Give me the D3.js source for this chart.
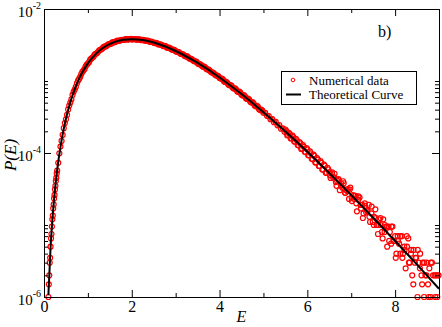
<!DOCTYPE html>
<html>
<head>
<meta charset="utf-8">
<script src="https://cdn.jsdelivr.net/npm/d3@7"></script>
<style>
  html, body { margin: 0; padding: 0; background: #fff; }
  svg { display: block; font-family: "Liberation Serif", "Times New Roman", serif; }
</style>
</head>
<body>
<svg id="chart" width="442" height="327"></svg>
<script>
// numerical histogram, E (energy) and P(E)
const dataE = [
  0.10,0.11,0.12,0.13,0.14,0.15,0.16,0.17,0.18,0.19,0.20,0.21,0.22,0.23,0.24,0.25,0.26,0.27,0.28,0.29,0.30,
  0.35,0.40,0.45,0.50,0.55,0.60,0.65,0.70,0.75,0.80,0.85,0.90,0.95,1.00,1.05,1.10,1.15,1.20,1.25,1.30,
  1.35,1.40,1.45,1.50,1.55,1.60,1.65,1.70,1.75,1.80,1.85,1.90,1.95,2.00,2.05,2.10,2.15,2.20,2.25,2.30,
  2.35,2.40,2.45,2.50,2.55,2.60,2.65,2.70,2.75,2.80,2.85,2.90,2.95,3.00,3.05,3.10,3.15,3.20,3.25,3.30,
  3.35,3.40,3.45,3.50,3.55,3.60,3.65,3.70,3.75,3.80,3.85,3.90,3.95,4.00,4.05,4.10,4.15,4.20,4.25,4.30,
  4.35,4.40,4.45,4.50,4.55,4.60,4.65,4.70,4.75,4.80,4.85,4.90,4.95,5.00,
  5.04,5.08,5.12,5.16,5.20,5.24,5.28,5.32,5.36,5.40,5.44,5.48,5.52,5.56,5.60,5.64,5.68,5.72,5.76,5.80,
  5.84,5.88,5.92,5.96,6.00,6.04,6.08,6.12,6.16,6.20,6.24,6.28,6.32,6.36,6.40,6.44,6.48,
  6.50,6.53,6.56,6.59,6.62,6.65,6.68,6.71,6.74,6.77,6.80,6.83,6.86,6.89,6.92,6.95,6.98,7.01,7.04,7.07,
  7.10,7.13,7.16,7.19,7.22,7.25,7.28,7.31,7.34,7.37,7.40,7.43,7.46,7.49,7.52,7.55,7.58,7.61,7.64,7.67,
  7.70,7.73,7.76,7.79,7.82,7.85,7.88,7.91,7.94,7.97,8.00,8.03,8.06,8.09,8.12,8.15,8.18,8.21,8.24,8.27,
  8.30,8.33,8.36,8.39,8.42,8.45,8.48,8.51,8.54,8.57,8.60,8.63,8.66,8.69,8.72,8.75,8.78,8.81,8.84,8.90,
  8.93,8.96,8.99
];
const dataP = [
  1.0e-6,1.5e-6,2.0e-6,3.0e-6,3.5e-6,5.0e-6,6.5e-6,7.5e-6,9.5e-6,1.2e-5,1.35e-5,1.7e-5,1.93e-5,2.34e-5,2.62e-5,3.12e-5,3.5e-5,4.1e-5,4.5e-5,5.2e-5,5.7e-5,
  9.9e-5,1.47e-4,2.21e-4,2.94e-4,4.03e-4,5.01e-4,6.41e-4,7.60e-4,9.30e-4,1.07e-3,1.25e-3,1.40e-3,1.60e-3,1.75e-3,1.96e-3,2.10e-3,2.30e-3,2.42e-3,2.63e-3,2.74e-3,
  2.93e-3,3.02e-3,3.19e-3,3.26e-3,3.41e-3,3.45e-3,3.58e-3,3.61e-3,3.71e-3,3.71e-3,3.80e-3,3.77e-3,3.83e-3,3.79e-3,3.83e-3,3.76e-3,3.80e-3,3.72e-3,3.73e-3,3.63e-3,
  3.64e-3,3.53e-3,3.52e-3,3.40e-3,3.38e-3,3.25e-3,3.23e-3,3.10e-3,3.07e-3,2.93e-3,2.90e-3,2.76e-3,2.72e-3,2.59e-3,2.55e-3,2.42e-3,2.37e-3,2.24e-3,2.21e-3,2.08e-3,
  2.03e-3,1.92e-3,1.88e-3,1.76e-3,1.72e-3,1.61e-3,1.58e-3,1.47e-3,1.44e-3,1.34e-3,1.31e-3,1.22e-3,1.19e-3,1.10e-3,1.08e-3,9.95e-4,9.75e-4,8.95e-4,8.80e-4,8.05e-4,
  7.90e-4,7.20e-4,7.10e-4,6.45e-4,6.36e-4,5.77e-4,5.70e-4,5.14e-4,5.08e-4,4.56e-4,4.53e-4,4.06e-4,4.02e-4,3.62e-4,
  3.6e-4,3.28e-4,3.25e-4,2.95e-4,2.95e-4,2.68e-4,2.70e-4,2.42e-4,2.45e-4,2.18e-4,2.20e-4,1.98e-4,2.02e-4,1.78e-4,1.83e-4,1.60e-4,1.66e-4,1.44e-4,1.50e-4,1.28e-4,
  1.36e-4,1.15e-4,1.22e-4,1.03e-4,1.12e-4,9.3e-5,9.9e-5,8.2e-5,9.1e-5,7.4e-5,8.1e-5,6.6e-5,7.3e-5,5.9e-5,6.6e-5,5.3e-5,5.9e-5,
  5.40e-5,4.50e-5,5.20e-5,4.55e-5,5.15e-5,3.95e-5,4.10e-5,4.35e-5,3.05e-5,3.80e-5,3.30e-5,3.80e-5,2.80e-5,3.05e-5,3.15e-5,2.30e-5,3.30e-5,2.40e-5,2.60e-5,2.30e-5,
  2.55e-5,1.55e-5,2.25e-5,2.40e-5,1.70e-5,1.90e-5,1.45e-5,2.00e-5,1.50e-5,1.55e-5,1.90e-5,1.10e-5,1.45e-5,1.10e-5,1.30e-5,1.65e-5,1.00e-5,7.5e-6,1.20e-5,1.00e-5,
  8.0e-6,1.20e-5,8.0e-6,9.5e-6,5.0e-6,9.5e-6,8.0e-6,5.5e-6,9.5e-6,6.0e-6,7.0e-6,4.0e-6,7.0e-6,5.5e-6,4.0e-6,7.0e-6,4.0e-6,5.0e-6,2.5e-6,5.0e-6,
  6.5e-6,3.0e-6,4.0e-6,2.0e-6,4.5e-6,3.0e-6,3.5e-6,1.0e-6,3.0e-6,4.0e-6,2.0e-6,3.0e-6,1.0e-6,2.0e-6,3.0e-6,1.5e-6,2.5e-6,1.0e-6,3.0e-6,2.0e-6,
  2.0e-6,1.0e-6,2.0e-6
];

// second run of the histogram (interleaved bins)
const dataE2 = [
  0.325,0.375,0.425,0.475,0.525,0.575,0.625,0.675,0.725,0.775,0.825,0.875,0.925,0.975,1.025,1.075,1.125,1.175,1.225,1.275,
  1.325,1.375,1.425,1.475,1.525,1.575,1.625,1.675,1.725,1.775,1.825,1.875,1.925,1.975,2.025,2.075,2.125,2.175,2.225,2.275,
  2.325,2.375,2.425,2.475,2.525,2.575,2.625,2.675,2.725,2.775,2.825,2.875,2.925,2.975,3.025,3.075,3.125,3.175,3.225,3.275,
  3.325,3.375,3.425,3.475,3.525,3.575,3.625,3.675,3.725,3.775,3.825,3.875,3.925,3.975,4.025,4.075,4.125,4.175,4.225,4.275,
  4.325,4.375,4.425,4.475,4.525,4.575,4.625,4.675,4.725,4.775,4.825,4.875,4.925,4.975,
  5.50,5.54,5.58,5.62,5.66,5.70,5.74,5.78,5.82,5.86,5.90,5.94,5.98,6.02,6.06,6.10,6.14,6.18,6.22,6.26,
  6.30,6.34,6.38,6.42,6.46,
  6.515,6.565,6.615,6.665,6.715,6.765,6.815,6.865,6.915,6.965,7.015,7.065,7.115,7.165,7.215,7.265,7.315,7.365,7.415,7.465,
  7.515,7.565,7.615,7.665,7.715,7.765,7.815,7.865,7.915,7.965,8.015,8.065,8.115,8.165,8.215,8.265,8.315,8.365,8.415,8.465,
  8.515,8.565,8.615,8.665,8.715,8.765,8.815,8.865,8.915,8.965
];
const dataP2 = [
  7.3e-5,1.23e-4,1.78e-4,2.60e-4,3.39e-4,4.56e-4,5.58e-4,7.08e-4,8.28e-4,1.01e-3,1.14e-3,1.34e-3,1.47e-3,1.69e-3,1.82e-3,2.05e-3,2.17e-3,2.39e-3,2.50e-3,2.71e-3,
  2.80e-3,3.00e-3,3.07e-3,3.25e-3,3.30e-3,3.46e-3,3.48e-3,3.63e-3,3.62e-3,3.74e-3,3.72e-3,3.82e-3,3.76e-3,3.84e-3,3.77e-3,3.83e-3,3.75e-3,3.79e-3,3.69e-3,3.71e-3,
  3.61e-3,3.61e-3,3.49e-3,3.48e-3,3.36e-3,3.34e-3,3.21e-3,3.19e-3,3.05e-3,3.02e-3,2.88e-3,2.85e-3,2.71e-3,2.68e-3,2.54e-3,2.50e-3,2.37e-3,2.33e-3,2.20e-3,2.16e-3,
  2.03e-3,1.99e-3,1.88e-3,1.84e-3,1.72e-3,1.68e-3,1.58e-3,1.54e-3,1.44e-3,1.40e-3,1.31e-3,1.27e-3,1.19e-3,1.16e-3,1.08e-3,1.05e-3,9.72e-4,9.46e-4,8.74e-4,8.53e-4,
  7.85e-4,7.66e-4,7.03e-4,6.88e-4,6.29e-4,6.16e-4,5.62e-4,5.51e-4,5.01e-4,4.91e-4,4.45e-4,4.37e-4,3.95e-4,3.87e-4,
  2.12e-4,1.76e-4,1.90e-4,1.59e-4,1.74e-4,1.44e-4,1.57e-4,1.29e-4,1.42e-4,1.14e-4,1.29e-4,1.04e-4,1.17e-4,9.3e-5,1.05e-4,8.3e-5,9.5e-5,7.4e-5,8.5e-5,6.6e-5,
  7.7e-5,5.9e-5,6.9e-5,5.3e-5,6.2e-5,
  4.90e-5,5.40e-5,4.60e-5,3.50e-5,4.20e-5,3.55e-5,4.05e-5,2.80e-5,2.95e-5,3.10e-5,2.15e-5,2.55e-5,2.00e-5,2.50e-5,1.90e-5,1.25e-5,1.85e-5,1.60e-5,1.30e-5,1.80e-5,
  1.00e-5,1.25e-5,1.00e-5,1.25e-5,6.5e-6,1.00e-5,9.5e-6,6.0e-6,9.5e-6,6.0e-6,3.5e-6,6.0e-6,7.0e-6,3.5e-6,4.5e-6,7.0e-6,3.0e-6,4.5e-6,1.5e-6,3.5e-6,
  4.5e-6,2.5e-6,1.5e-6,3.0e-6,2.0e-6,1.0e-6,3.0e-6,2.0e-6,1.0e-6,2.0e-6
];

// theoretical curve
const curveE = [0.1,0.15,0.2,0.25,0.3,0.4,0.5,0.6,0.7,0.8,0.9,1.0,1.2,1.4,1.6,1.8,2.0,2.25,2.5,2.75,3.0,3.5,4.0,4.5,5.0,5.5,6.0,6.5,7.0,7.5,8.0,8.5,9.0];
const curveP = [1.06e-6,4.88e-6,1.39e-5,3.08e-5,5.78e-5,1.50e-4,2.99e-4,5.08e-4,7.69e-4,1.08e-3,1.41e-3,1.76e-3,2.44e-3,3.04e-3,3.47e-3,3.73e-3,3.81e-3,3.70e-3,3.42e-3,3.04e-3,2.61e-3,1.78e-3,1.12e-3,6.58e-4,3.69e-4,1.99e-4,1.04e-4,5.25e-5,2.60e-5,1.26e-5,6.0e-6,2.81e-6,1.30e-6];

// ticks
const xMajorTicks = [0, 2, 4, 6, 8];
const xMinorTicks = [1, 3, 5, 7];
const yMajorTicks = [1e-6, 1e-4, 1e-2];
const yMinorTicks = [2e-6,3e-6,4e-6,5e-6,6e-6,7e-6,8e-6,9e-6,1e-5, 2e-4,3e-4,4e-4,5e-4,6e-4,7e-4,8e-4,9e-4,1e-3];
const yTickExp = ["-6", "-4", "-2"];

const legendLabels = ["Numerical data", "Theoretical Curve"];
const panelLabel = "b)";

const svg = d3.select("#chart");
const plot = { left: 44, right: 439, top: 9, bottom: 297 };

const x = d3.scaleLinear().domain([0, 9]).range([plot.left, plot.right]);
const y = d3.scaleLog().domain([1e-6, 1e-2]).range([plot.bottom, plot.top]);

//Numerical data as open circles
const points = d3.zip(dataE, dataP).concat(d3.zip(dataE2, dataP2));
svg.append("g")
  .selectAll("circle")
  .data(points)
  .join("circle")
  .attr("cx", d => x(d[0]))
  .attr("cy", d => y(d[1]))
  .attr("r", 2.5)
  .attr("fill", "none")
  .attr("stroke", "#ff0000")
  .attr("stroke-width", 1.2);

//Theoretical curve
const line = d3.line()
  .x(d => x(d[0]))
  .y(d => y(d[1]))
  .curve(d3.curveMonotoneX);
svg.append("path")
  .datum(d3.zip(curveE, curveP))
  .attr("d", line)
  .attr("fill", "none")
  .attr("stroke", "#000")
  .attr("stroke-width", 2);

//Axes, ticks pointing inward on all four sides
function styleAxis(g) {
  g.selectAll("path, line").attr("stroke", "#000");
  g.selectAll("text").remove();
}
const majorLen = 7, minorLen = 4;

const xBottom = svg.append("g").attr("transform", `translate(0,${plot.bottom})`)
  .call(d3.axisBottom(x).tickValues(xMajorTicks).tickSizeInner(-majorLen).tickSizeOuter(0).tickPadding(4).tickFormat(d3.format("d")));
xBottom.select(".domain").attr("stroke", "#000");
xBottom.selectAll("line").attr("stroke", "#000");
xBottom.selectAll("text")
  .attr("font-size", 16)
  .attr("font-family", "Liberation Serif, Times New Roman, serif")
  .attr("fill", "#000");
svg.append("g").attr("transform", `translate(0,${plot.bottom})`)
  .call(d3.axisBottom(x).tickValues(xMinorTicks).tickSizeInner(-minorLen).tickSizeOuter(0))
  .call(styleAxis);

svg.append("g").attr("transform", `translate(0,${plot.top})`)
  .call(d3.axisTop(x).tickValues(xMajorTicks).tickSizeInner(-majorLen).tickSizeOuter(0))
  .call(styleAxis);
svg.append("g").attr("transform", `translate(0,${plot.top})`)
  .call(d3.axisTop(x).tickValues(xMinorTicks).tickSizeInner(-minorLen).tickSizeOuter(0))
  .call(styleAxis);

svg.append("g").attr("transform", `translate(${plot.left},0)`)
  .call(d3.axisLeft(y).tickValues(yMajorTicks).tickSizeInner(-majorLen).tickSizeOuter(0))
  .call(styleAxis);
svg.append("g").attr("transform", `translate(${plot.left},0)`)
  .call(d3.axisLeft(y).tickValues(yMinorTicks).tickSizeInner(-minorLen).tickSizeOuter(0))
  .call(styleAxis);
svg.append("g").attr("transform", `translate(${plot.right},0)`)
  .call(d3.axisRight(y).tickValues(yMajorTicks).tickSizeInner(-majorLen).tickSizeOuter(0))
  .call(styleAxis);
svg.append("g").attr("transform", `translate(${plot.right},0)`)
  .call(d3.axisRight(y).tickValues(yMinorTicks).tickSizeInner(-minorLen).tickSizeOuter(0))
  .call(styleAxis);

//Y tick labels as 10 with superscript exponent
const yLab = svg.append("g").selectAll("text")
  .data(yMajorTicks)
  .join("text")
  .attr("x", plot.left - 3)
  .attr("y", d => y(d) + 8)
  .attr("text-anchor", "end")
  .attr("font-size", 15)
  .attr("fill", "#000");
yLab.append("tspan").text("10");
yLab.append("tspan")
  .attr("dy", -8)
  .attr("font-size", 10)
  .text((d, i) => yTickExp[i]);

//Axis titles
svg.append("text")
  .attr("x", (plot.left + plot.right) / 2)
  .attr("y", 322)
  .attr("text-anchor", "middle")
  .attr("font-size", 16)
  .attr("font-style", "italic")
  .text("E");

svg.append("text")
  .attr("transform", `translate(16,${(plot.top + plot.bottom) / 2 + 2}) rotate(-90)`)
  .attr("text-anchor", "middle")
  .attr("font-size", 17)
  .attr("font-style", "italic")
  .text("P(E)");

svg.append("text")
  .attr("x", 378)
  .attr("y", 37)
  .attr("font-size", 16)
  .text(panelLabel);

//Legend
const legend = svg.append("g").attr("transform", "translate(281,71)");
legend.append("rect")
  .attr("x", 0.5).attr("y", 0.5)
  .attr("width", 135).attr("height", 33)
  .attr("fill", "#fff")
  .attr("stroke", "#000")
  .attr("stroke-width", 1);
legend.append("circle")
  .attr("cx", 12).attr("cy", 9)
  .attr("r", 1.8)
  .attr("fill", "none")
  .attr("stroke", "#ff0000")
  .attr("stroke-width", 1);
legend.append("line")
  .attr("x1", 5).attr("x2", 20)
  .attr("y1", 23.5).attr("y2", 23.5)
  .attr("stroke", "#000")
  .attr("stroke-width", 2);
legend.selectAll("text.lg")
  .data(legendLabels)
  .join("text")
  .attr("class", "lg")
  .attr("x", 28)
  .attr("y", (d, i) => 13.5 + i * 14.5)
  .attr("font-size", 13)
  .text(d => d);
</script>
</body>
</html>
